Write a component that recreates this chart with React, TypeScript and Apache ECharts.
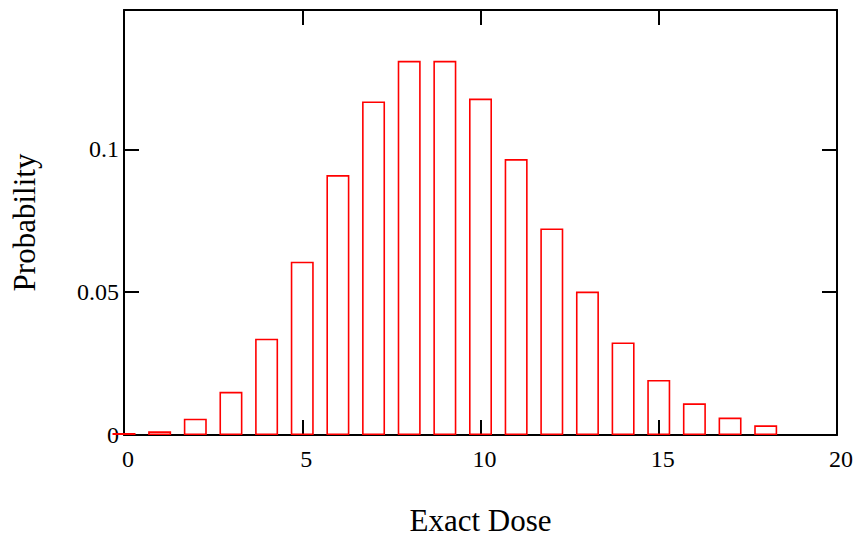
import React, { useEffect, useRef } from "react";
import * as echarts from "echarts";

const doses = [0, 1, 2, 3, 4, 5, 6, 7, 8, 9, 10, 11, 12, 13, 14, 15, 16, 17, 18];
const probabilities = [
  0.0007, 0.0013, 0.0057, 0.0151, 0.0337, 0.0607, 0.091, 0.1168, 0.131, 0.131,
  0.1178, 0.0966, 0.0723, 0.0502, 0.0324, 0.0193, 0.0111, 0.0061, 0.0034,
];
const xTitle = "Exact Dose";
const yTitle = "Probability";

const FONT = "'Liberation Serif', 'Times New Roman', serif";

export default function App() {
  const ref = useRef<HTMLDivElement>(null);
  useEffect(() => {
    if (!ref.current) return;
    const chart = echarts.init(ref.current, null, { renderer: "svg" });
    const mkLine = () => ({ show: true, onZero: false, lineStyle: { color: "#000", width: 2 } });
    const mkTick = () => ({ show: true, inside: true, length: 15, lineStyle: { color: "#000", width: 2 } });
    const xFmt = (v: number) => (Math.abs(v / 5 - Math.round(v / 5)) < 1e-9 ? String(v) : "");
    const yFmt = (v: number) =>
      Math.abs(v / 0.05 - Math.round(v / 0.05)) < 1e-6 ? String(parseFloat(v.toFixed(4))) : "";
    chart.setOption({
      animation: false,
      backgroundColor: "#fff",
      grid: { left: 124, right: 20, top: 10, bottom: 99.5, containLabel: false },
      xAxis: [
        {
          type: "value",
          min: 0,
          max: 20,
          interval: 5,
          position: "bottom",
          axisLine: mkLine(),
          axisTick: mkTick(),
          splitLine: { show: false },
          axisLabel: {
            color: "#000",
            fontFamily: FONT,
            fontSize: 24,
            margin: 12,
            padding: [0, 0, 0, 8],
            formatter: xFmt,
          },
          name: xTitle,
          nameLocation: "middle",
          nameGap: 70,
          nameTextStyle: { color: "#000", fontFamily: FONT, fontSize: 31 },
        },
        {
          type: "value",
          min: 0,
          max: 20,
          interval: 5,
          position: "top",
          axisLine: mkLine(),
          axisTick: mkTick(),
          splitLine: { show: false },
          axisLabel: { show: false },
        },
      ],
      yAxis: [
        {
          type: "value",
          min: 0,
          max: 0.1488,
          interval: 0.05,
          position: "left",
          axisLine: mkLine(),
          axisTick: mkTick(),
          splitLine: { show: false },
          axisLabel: {
            color: "#000",
            fontFamily: FONT,
            fontSize: 24,
            margin: 5,
            verticalAlign: "middle",
            padding: [10, 0, 0, 0],
            formatter: yFmt,
          },
          name: yTitle,
          nameLocation: "middle",
          nameGap: 84,
          nameTextStyle: { color: "#000", fontFamily: FONT, fontSize: 31 },
        },
        {
          type: "value",
          min: 0,
          max: 0.1488,
          interval: 0.05,
          position: "right",
          axisLine: mkLine(),
          axisTick: mkTick(),
          splitLine: { show: false },
          axisLabel: { show: false },
        },
      ],
      series: [
        {
          type: "bar",
          xAxisIndex: 0,
          yAxisIndex: 0,
          barWidth: 23,
          clip: true,
          data: doses.map((d, i) => [d, probabilities[i]]),
          itemStyle: { color: "rgba(0,0,0,0)", borderColor: "#ff0000", borderWidth: 1.6 },
        },
        {
          type: "line",
          xAxisIndex: 1,
          yAxisIndex: 1,
          data: [],
          silent: true,
        },
      ],
    });
    return () => chart.dispose();
  }, []);
  return (
    <div
      ref={ref}
      style={{ position: "fixed", left: 0, top: 0, width: 857, height: 541 }}
    />
  );
}
